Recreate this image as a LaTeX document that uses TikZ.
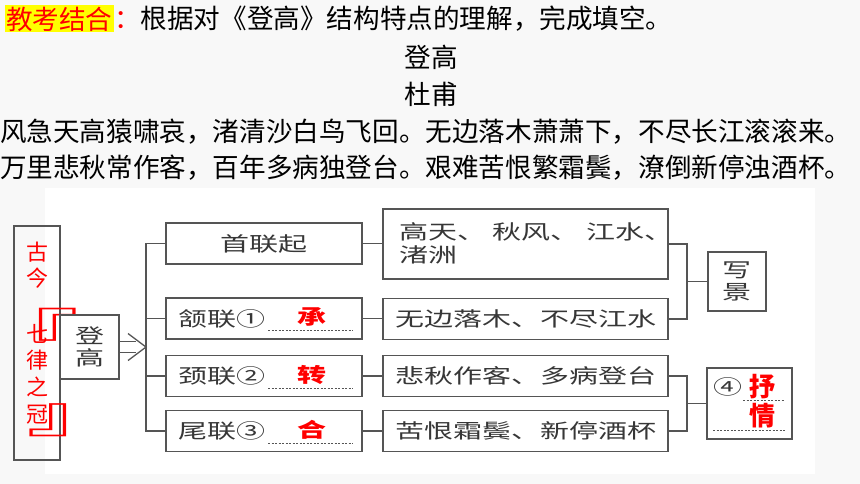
\documentclass[tikz,border=0pt]{standalone}
\usepackage{fontspec}
\setmainfont{Noto Sans CJK SC}
\newfontfamily\cjkw[FakeStretch=1.45]{Noto Sans CJK SC}
\newfontfamily\brk[FakeStretch=2]{Noto Sans CJK SC}
\usetikzlibrary{calc}
\definecolor{bg}{RGB}{248,248,248}
\definecolor{ln}{RGB}{85,85,85}
\definecolor{tx}{RGB}{55,55,55}
\definecolor{hl}{RGB}{255,255,0}
\begin{document}
\begin{tikzpicture}[x=1pt,y=-1pt,
  bx/.style={draw=ln,line width=1.3pt,inner sep=0pt,text=tx,font=\cjkw\fontsize{20}{22}\selectfont,align=center},
  conn/.style={draw=ln,line width=1.3pt},
  lbl/.style={inner sep=0pt,text=tx,font=\cjkw\fontsize{20}{22}\selectfont},
  redc/.style={inner sep=0pt,text=red,font=\cjkw\bfseries\fontsize{20}{22}\selectfont},
  redb/.style={inner sep=0pt,text=red,font=\bfseries\fontsize{26}{28}\selectfont},
  redv/.style={inner sep=0pt,text=red,align=center,font=\fontsize{22}{26.6}\selectfont},
  redk/.style={inner sep=0pt,text=red,font=\brk\fontsize{50}{52}\selectfont},
  dsh/.style={draw=ln,line width=0.7pt,dash pattern=on 2pt off 1.5pt},
  toptext/.style={inner sep=0pt,anchor=west,font=\fontsize{26.6}{30}\selectfont}]
\fill[bg] (0,0) rectangle (860,484);
\fill[white] (45,188) rectangle (815,474);
\useasboundingbox (0,0) rectangle (860,484);
% top text
\node[toptext, fill=hl, text=red, minimum height=27pt, inner xsep=1pt] (t1) at (5,19) {教考结合};
\node[toptext] (t2) at (t1.east) {\textcolor{red}{：}根据对《登高》结构特点的理解，完成填空。};
\node[toptext, anchor=center] (ti) at (431,57) {登高};
\node[toptext, anchor=center] (au) at (431,94) {杜甫};
\node[toptext] (p1) at (0,132) {风急天高猿啸哀，渚清沙白鸟飞回。无边落木萧萧下，不尽长江滚滚来。};
\node[toptext] (p2) at (0,168) {万里悲秋常作客，百年多病独登台。艰难苦恨繁霜鬓，潦倒新停浊酒杯。};
% diagram boxes
\node[bx, minimum width=46pt, minimum height=234pt] (g) at (37,343) {};
\node[redv] (g1) at (37,265) {古\\今};
\node[redv] (g2) at (37,374) {七\\律\\之\\冠};
\node[redk] (gb1) at (29.5,329) {『};
\node[redk] (gb2) at (77,420) {』};
\node[bx, minimum width=59pt, minimum height=64pt] (d) at (89.5,347) {登\\高};
\node[bx, minimum width=196pt, minimum height=41pt] (b1) at (264,243.5) {首联起};
\node[bx, minimum width=196pt, minimum height=41pt] (b2) at (264,318.5) {};
\node[bx, minimum width=196pt, minimum height=41pt] (b3) at (264,376) {};
\node[bx, minimum width=196pt, minimum height=41pt] (b4) at (264,431) {};
\node[lbl, anchor=west] (l2) at (178,318.5) {颔联①};
\node[lbl, anchor=west] (l3) at (178,376) {颈联②};
\node[lbl, anchor=west] (l4) at (178,431) {尾联③};
\node[redc] (c2) at (312,317) {承};
\node[redc] (c3) at (312,375) {转};
\node[redc] (c4) at (312,430) {合};
\draw[dsh] (268,330) -- (353,330);
\draw[dsh] (268,388) -- (353,388);
\draw[dsh] (268,443) -- (353,443);
\node[bx, minimum width=285pt, minimum height=70pt] (r1) at (525.5,244) {};
\node[lbl, anchor=west] (r1a) at (399,232) {高天、 秋风、 江水、};
\node[lbl, anchor=west] (r1b) at (399,255) {渚洲};
\node[bx, minimum width=285pt, minimum height=41pt] (r2) at (525.5,319) {无边落木、不尽江水};
\node[bx, minimum width=285pt, minimum height=41pt] (r3) at (525.5,376) {悲秋作客、多病登台};
\node[bx, minimum width=285pt, minimum height=41pt] (r4) at (525.5,431) {苦恨霜鬓、新停酒杯};
\node[bx, minimum width=58pt, minimum height=59pt] (xj) at (737,281.5) {写\\景};
\node[bx, minimum width=85pt, minimum height=71pt] (q) at (749.5,403.5) {};
\node[lbl] (n4) at (728,387) {④};
\node[redb] (s1) at (762,387) {抒};
\node[redb] (s2) at (762,416) {情};
\draw[dsh] (743,400) -- (785,400);
\draw[dsh] (713,430) -- (785,430);
% connectors
\coordinate (ah) at (146,347);
\coordinate (jx) at (687,0);
\draw[conn] ($(d.east)+(0,-5.5)$) -- ($(ah)+(-10,-5.5)$);
\draw[conn] ($(d.east)+(0,5.5)$) -- ($(ah)+(-10,5.5)$);
\draw[conn, line join=miter] ($(ah)+(-18,-13.5)$) -- (ah) -- ($(ah)+(-18,13.5)$);
\draw[conn] (b1.west) -- (b1.west -| ah) -- (b4.west -| ah) -- (b4.west);
\draw[conn] (b2.west) -- (b2.west -| ah);
\draw[conn] (b3.west) -- (b3.west -| ah);
\draw[conn] (b1.east) -- (b1.east -| r1.west);
\draw[conn] (b2.east) -- (b2.east -| r2.west);
\draw[conn] (b3.east) -- (b3.east -| r3.west);
\draw[conn] (b4.east) -- (b4.east -| r4.west);
\draw[conn] (r1.east) -- (r1.east -| jx) -- (r2.east -| jx) -- (r2.east);
\draw[conn] (xj.west) -- (xj.west -| jx);
\draw[conn] (r3.east) -- (r3.east -| jx) -- (r4.east -| jx) -- (r4.east);
\draw[conn] (q.west) -- (q.west -| jx);
\end{tikzpicture}
\end{document}
